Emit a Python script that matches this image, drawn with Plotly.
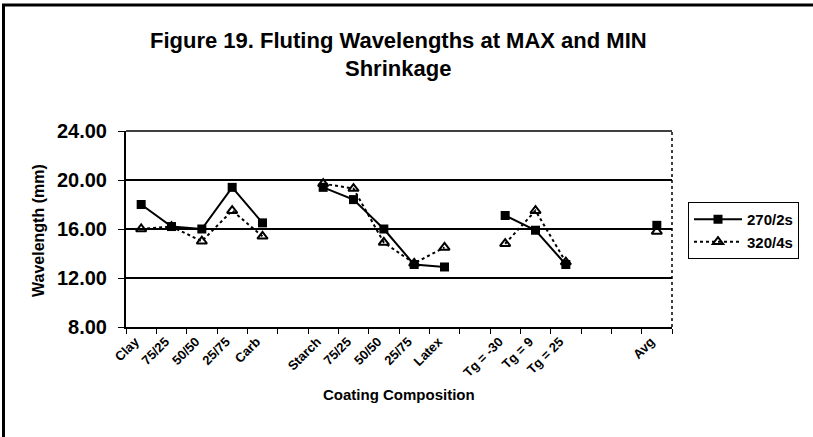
import plotly.graph_objects as go

# Coating compositions along the x axis (blank slots separate the groups)
categories = ["Clay", "75/25", "50/50", "25/75", "Carb", "",
              "Starch", "75/25", "50/50", "25/75", "Latex", "",
              "Tg = -30", "Tg = 9", "Tg = 25", "", "", "Avg"]

# Fluting wavelength (mm) for each condition
wl_270_2s = [18.0, 16.2, 16.0, 19.4, 16.5, None,
             19.4, 18.4, 16.0, 13.1, 12.9, None,
             17.1, 15.9, 13.1, None, None, 16.3]
wl_320_4s = [16.0, 16.2, 15.0, 17.5, 15.4, None,
             19.7, 19.3, 14.9, 13.2, 14.5, None,
             14.8, 17.5, 13.3, None, None, 15.8]

y_ticks = [8, 12, 16, 20, 24]

title_lines = ["Figure 19. Fluting Wavelengths at MAX and MIN", "Shrinkage"]

FONT = "Arial, Liberation Sans, sans-serif"
x_idx = list(range(len(categories)))

# plot area in pixels: x 126..672, y 131..327
L, R, T, B = 126, 672, 131, 327
W, H = 813, 437


def px_x(px):
    return (px - L) / (R - L)


def px_y(py):
    return (B - py) / (B - T)


fig = go.Figure()
fig.add_trace(go.Scatter(
    x=x_idx, y=wl_270_2s, name="<b>270/2s</b>", mode="lines+markers",
    line=dict(color="black", width=2),
    marker=dict(symbol="square", size=9, color="black"),
    connectgaps=False,
))
fig.add_trace(go.Scatter(
    x=x_idx, y=wl_320_4s, name="<b>320/4s</b>", mode="lines+markers",
    line=dict(color="black", width=2, dash="dot"),
    marker=dict(symbol="triangle-up-open", size=9, color="black",
                line=dict(width=2, color="black")),
    connectgaps=False,
))

fig.update_xaxes(
    range=[-0.5, len(categories) - 0.5],
    tickmode="array", tickvals=x_idx,
    ticktext=["<b>%s</b>" % c if c else "" for c in categories],
    tickangle=-45, ticks="", showgrid=False,
    ticklabelshift=-6,
    showline=True, linecolor="black", linewidth=2,
    tickfont=dict(family=FONT, size=13, color="black"),
    minor=dict(ticks="outside", ticklen=5, tickcolor="black",
               tick0=-0.5, dtick=1, showgrid=False),
    zeroline=False,
)
fig.update_yaxes(
    range=[8, 24], tickmode="array", tickvals=y_ticks,
    ticktext=["<b>%.2f</b>" % v for v in y_ticks],
    ticks="outside", ticklen=6, tickcolor="black",
    ticklabelstandoff=7,
    showgrid=True, gridcolor="black", gridwidth=1.5,
    showline=True, linecolor="black", linewidth=2,
    tickfont=dict(family=FONT, size=20, color="black"),
    zeroline=False,
)

# plot-area frame: top line and dotted right edge
fig.add_shape(type="line", xref="paper", yref="paper", x0=0, x1=1, y0=1, y1=1,
              line=dict(color="black", width=1.5))
fig.add_shape(type="line", xref="paper", yref="paper", x0=1, x1=1, y0=0, y1=1,
              line=dict(color="black", width=1.5, dash="dot"))
# outer chart border (top and left edges)
fig.add_shape(type="line", xref="paper", yref="paper", x0=px_x(2), x1=px_x(W + 5),
              y0=px_y(5), y1=px_y(5), line=dict(color="black", width=3))
fig.add_shape(type="line", xref="paper", yref="paper", x0=px_x(3.5), x1=px_x(3.5),
              y0=px_y(H + 5), y1=px_y(5), line=dict(color="black", width=3))

# chart title, two centred lines
for text, cy in zip(title_lines, [40, 68]):
    fig.add_annotation(text="<b>%s</b>" % text, xref="paper", yref="paper",
                       x=px_x(398), y=px_y(cy), showarrow=False,
                       xanchor="center", yanchor="middle",
                       font=dict(family=FONT, size=22, color="black"))

fig.add_annotation(text="<b>Coating Composition</b>", xref="paper", yref="paper",
                   x=0.5, y=px_y(394), showarrow=False,
                   xanchor="center", yanchor="middle",
                   font=dict(family=FONT, size=15, color="black"))
fig.add_annotation(text="<b>Wavelength (mm)</b>", xref="paper", yref="paper",
                   x=px_x(38), y=px_y(231), textangle=-90,
                   xanchor="center", yanchor="middle", showarrow=False,
                   font=dict(family=FONT, size=16, color="black"))

fig.update_layout(
    width=W, height=H,
    margin=dict(l=L, r=W - R, t=T, b=H - B),
    paper_bgcolor="white", plot_bgcolor="white",
    showlegend=True,
    legend=dict(x=px_x(688), y=px_y(202), xanchor="left", yanchor="top",
                bordercolor="black", borderwidth=1, bgcolor="white",
                font=dict(family=FONT, size=15, color="black"),
                tracegroupgap=0, itemwidth=48),
)

fig.write_html("out.html")
